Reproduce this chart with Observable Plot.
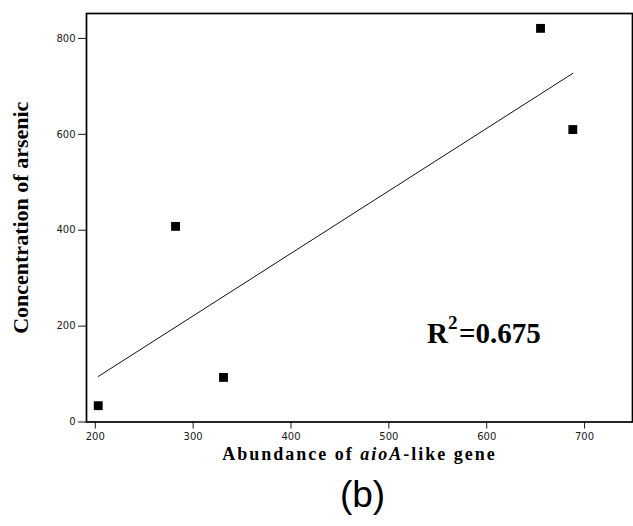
<!DOCTYPE html>
<html>
<head>
<meta charset="utf-8">
<script src="https://cdn.jsdelivr.net/npm/d3@7"></script>
<script src="https://cdn.jsdelivr.net/npm/@observablehq/plot@0.6"></script>
<style>
  body { margin: 0; background: #fff; width: 633px; }
  #chart svg { display: block; }
  g[aria-label="y-axis label"] text {
    font-family: "Liberation Serif", serif; font-weight: bold; font-size: 22px; fill: #000;
  }
  .xlabel {
    width: 633px; box-sizing: border-box; padding-left: 86px;
    text-align: center; font-family: "Liberation Serif", serif; font-weight: bold;
    font-size: 18px; line-height: 16px; height: 16px; letter-spacing: 2px; color: #000; margin-top: 0px;
  }
  .panel {
    width: 633px; box-sizing: border-box; padding-left: 92px; text-align: center;
    font-family: "Liberation Sans", Arial, sans-serif; font-size: 37px; line-height: 40px; margin-top: 13px; color: #000;
  }
</style>
</head>
<body>
<div id="chart"></div>
<div class="xlabel">Abundance of <i>aioA</i>-like gene</div>
<div class="panel">(b)</div>
<script>
const abundance = [203, 282, 331, 655, 688];
const arsenic   = [34, 408, 93, 821, 610];
const xTicks = [200, 300, 400, 500, 600, 700];
const yTicks = [0, 200, 400, 600, 800];
const r2Label = ["R", "2", "=0.675"];

const data = abundance.map((a, i) => ({abundance: a, arsenic: arsenic[i]}));

const chart = Plot.plot({
  width: 633,
  height: 446,
  marginLeft: 86,
  marginRight: 1,
  marginTop: 13,
  marginBottom: 24.5,
  style: {fontFamily: "DejaVu Sans, sans-serif", fontSize: "10px", color: "#1a1a1a", background: "#fff"},
  x: {domain: [191, 749], ticks: xTicks, tickSize: 7, tickPadding: 4, label: null},
  y: {domain: [0, 852], ticks: yTicks, tickSize: 8, tickPadding: 3, label: "Concentration of arsenic", labelAnchor: "center", labelOffset: 74, labelArrow: "none"},
  marks: [
    Plot.frame({stroke: "#000", strokeWidth: 1.7}),
    Plot.linearRegressionY(data, {x: "abundance", y: "arsenic", ci: 0, stroke: "#111", strokeWidth: 1}),
    Plot.dot(data, {x: "abundance", y: "arsenic", symbol: "square", r: 5, fill: "#000", stroke: "none"}),
    Plot.text([r2Label[0]], {x: 539, y: 164, text: d => d, textAnchor: "start", lineAnchor: "bottom", fontFamily: "Liberation Serif", fontWeight: "bold", fontSize: 29, fill: "#000"}),
    Plot.text([r2Label[1]], {x: 539, y: 164, text: d => d, dx: 21, dy: -14, textAnchor: "start", lineAnchor: "bottom", fontFamily: "Liberation Serif", fontWeight: "bold", fontSize: 19, fill: "#000"}),
    Plot.text([r2Label[2]], {x: 539, y: 164, text: d => d, dx: 32, textAnchor: "start", lineAnchor: "bottom", fontFamily: "Liberation Serif", fontWeight: "bold", fontSize: 29, fill: "#000"})
  ]
});
document.getElementById("chart").appendChild(chart);
</script>
</body>
</html>
